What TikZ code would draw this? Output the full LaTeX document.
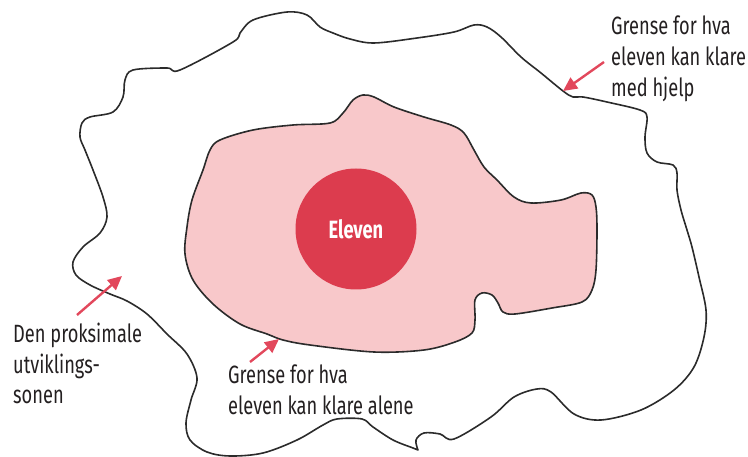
\documentclass[tikz,border=0pt]{standalone}
\usepackage{fontspec}
\setmainfont{Fira Sans}[FakeStretch=0.73]
\usetikzlibrary{arrows.meta}
\definecolor{zonepink}{HTML}{F8C8CA}
\definecolor{elevred}{HTML}{DC3C4E}
\definecolor{arrowred}{HTML}{E2485C}
\definecolor{outlinegray}{HTML}{2B2B2B}
\definecolor{inkblack}{HTML}{231F20}
\begin{document}
\begin{tikzpicture}[x=1pt,y=-1pt,
  boundary/.style={draw=outlinegray,line width=1.6pt,line cap=round,line join=round},
  pointer/.style={draw=arrowred,line width=2.4pt,-{Triangle[length=14pt,width=13pt]}},
  label/.style={anchor=base west,inner sep=0pt,align=left,font=\fontsize{25}{31}\selectfont,text=inkblack}]
\useasboundingbox (0,0) rectangle (748,457);
% outer zone
\draw[boundary] plot[smooth,tension=0.55] coordinates {
(418,450) (416,440) (424,433) (440,434) (454,439) (491,417) (514,397) (537,389) (551,392)
(574,414) (601,420) (641,410) (674,390) (694,367) (704,337) (706,310) (699,277) (692,247)
(687,230) (681,210) (677,190) (677,173) (673,165) (657,162) (647,153) (645,137) (647,117)
(640,110) (607,102) (583,97) (573,97) (563,91) (541,73) (521,57) (501,37) (487,27) (474,25)
(454,32) (417,38) (374,43) (350,39) (333,33) (320,27) (307,15) (287,12) (253,20) (240,33)
(233,42) (180,70) (167,68) (133,70) (125,80) (123,97) (113,112) (90,117) (82,123) (80,137)
(85,150) (93,170) (103,197) (107,217) (100,233) (83,247) (73,262) (76,275) (90,285) (110,294)
(127,301) (147,314) (167,334) (187,354) (197,378) (191,400) (186,423) (190,440) (207,452)
(230,456) (263,453) (297,440) (323,425) (337,419) (362,419) (373,427) (393,440) (413,448) (418,450)};
% inner zone
\filldraw[boundary,fill=zonepink] plot[smooth cycle,tension=0.55] coordinates {
(220,140) (253,130) (293,125) (330,123) (343,113) (353,100) (363,95) (374,97) (394,107)
(424,117) (451,125) (464,133) (474,150) (484,167) (497,180) (514,197) (531,203) (561,200)
(581,193) (592,195) (596,207) (597,230) (596,270) (592,290) (582,302) (552,308) (515,314)
(503,312) (498,303) (492,295) (482,293) (475,300) (475,320) (472,333) (455,342) (424,350)
(374,352) (310,345) (283,340) (267,334) (240,324) (213,304) (193,280) (185,254) (187,227)
(192,200) (203,170) (210,150)};
% student
\node[circle,fill=elevred,minimum size=121pt,inner sep=0pt,text=white,
  font=\fontsize{25}{28}\selectfont\bfseries] (elev) at (356,229) {Eleven};
% labels (anchored at the baseline of the last line)
\node[label] (hjelp) at (611,97) {Grense for hva\\eleven kan klare\\med hjelp};
\node[label] (sone) at (13,404) {Den proksimale\\utviklings-\\sonen};
\node[label] (alene) at (228,414) {Grense for hva\\eleven kan klare alene};
% arrows
\coordinate (a1s) at (604,62); \coordinate (a1e) at (563,91);
\coordinate (a2s) at (77,315); \coordinate (a2e) at (122,276);
\coordinate (a3s) at (250,362); \coordinate (a3e) at (279,339);
\draw[pointer] (a1s) -- (a1e);
\draw[pointer] (a2s) -- (a2e);
\draw[pointer] (a3s) -- (a3e);
\end{tikzpicture}
\end{document}
